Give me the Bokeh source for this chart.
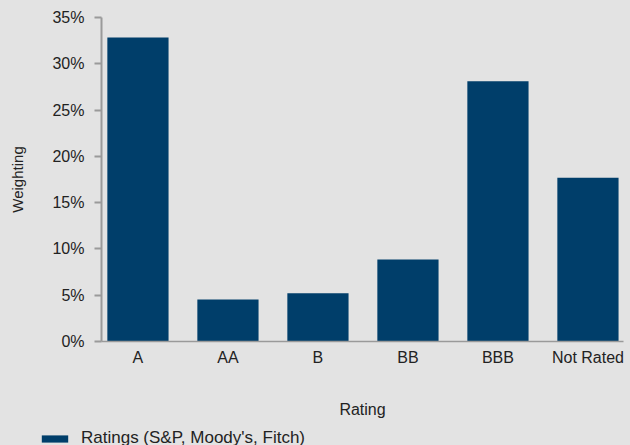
from bokeh.plotting import figure
from bokeh.layouts import column
from bokeh.models import (ColumnDataSource, Range1d, FixedTicker, PrintfTickFormatter,
                          Legend, LegendItem)
from bokeh.embed import file_html
from bokeh.resources import INLINE

categories = ["A", "AA", "B", "BB", "BBB", "Not Rated"]
weighting = [32.85, 4.55, 5.2, 8.85, 28.1, 17.7]
y_ticks = [0, 5, 10, 15, 20, 25, 30, 35]
series_name = "Ratings (S&P, Moody's, Fitch)"

BG = "#e3e3e3"
BAR = "#003e6a"
FONT = "Liberation Sans"
TXT = "#222222"
AX = "#9a9a9a"

idx = list(range(len(categories)))
src = ColumnDataSource(dict(x=idx, top=weighting, cat=categories))

p = figure(width=630, height=420, output_backend="svg", toolbar_location=None,
           x_range=Range1d(-0.405, 5.395), y_range=Range1d(0, 35),
           background_fill_color=BG, border_fill_color=BG,
           min_border_left=101, min_border_top=17, min_border_bottom=79, min_border_right=7)
p.frame_align = False
p.outline_line_color = None
p.xgrid.visible = False
p.ygrid.visible = False

r = p.vbar(x="x", top="top", width=0.68, source=src, fill_color=BAR, line_color=None)

xa = p.xaxis[0]
xa.ticker = FixedTicker(ticks=idx)
xa.major_label_overrides = {i: c for i, c in zip(idx, categories)}
xa.major_tick_line_color = None
xa.minor_tick_line_color = None
xa.major_tick_out = 0
xa.major_tick_in = 0
xa.axis_line_color = AX
xa.axis_line_width = 1.5
xa.major_label_standoff = 7
xa.major_label_text_font = FONT
xa.major_label_text_font_size = "16px"
xa.major_label_text_color = TXT
xa.axis_label = "Rating"
xa.axis_label_text_font = FONT
xa.axis_label_text_font_size = "16px"
xa.axis_label_text_font_style = "normal"
xa.axis_label_text_color = TXT
xa.axis_label_standoff = 32

ya = p.yaxis[0]
ya.ticker = FixedTicker(ticks=y_ticks)
ya.formatter = PrintfTickFormatter(format="%d%%")
ya.minor_tick_line_color = None
ya.major_tick_in = 0
ya.major_tick_out = 7
ya.major_tick_line_color = AX
ya.major_tick_line_width = 2
ya.axis_line_color = AX
ya.axis_line_width = 2
ya.major_label_standoff = 10
ya.major_label_text_font = FONT
ya.major_label_text_font_size = "16px"
ya.major_label_text_color = TXT
ya.axis_label = "Weighting"
ya.axis_label_text_font = FONT
ya.axis_label_text_font_size = "15px"
ya.axis_label_text_font_style = "normal"
ya.axis_label_text_color = TXT
ya.axis_label_standoff = 23

# legend strip below the chart (a legend inside the chart frame would be clipped);
# its zero-width bar renderer lies outside the strip's view, so only the swatch shows
lg = figure(width=630, height=25, output_backend="svg", toolbar_location=None,
            x_range=Range1d(-0.5, 5.5), y_range=Range1d(-200, -100),
            background_fill_color=BG, border_fill_color=BG,
            min_border=0, x_axis_location=None, y_axis_location=None)
lg.frame_align = False
lg.outline_line_color = None
lg.grid.visible = False
lr = lg.vbar(x="x", top="top", width=0, source=src, fill_color=BAR, line_color=None)

legend = Legend(items=[LegendItem(label=series_name, renderers=[lr])],
                location=(38, -3), padding=0, margin=0, spacing=0,
                glyph_width=33, glyph_height=9, label_standoff=10,
                label_text_font=FONT, label_text_font_size="17px", label_text_color=TXT,
                label_text_baseline="alphabetic",
                border_line_color=None, background_fill_alpha=0)
lg.add_layout(legend, "center")

layout = column(p, lg, spacing=0, styles={"background-color": BG})
open("out.html", "w").write(file_html(layout, INLINE))
